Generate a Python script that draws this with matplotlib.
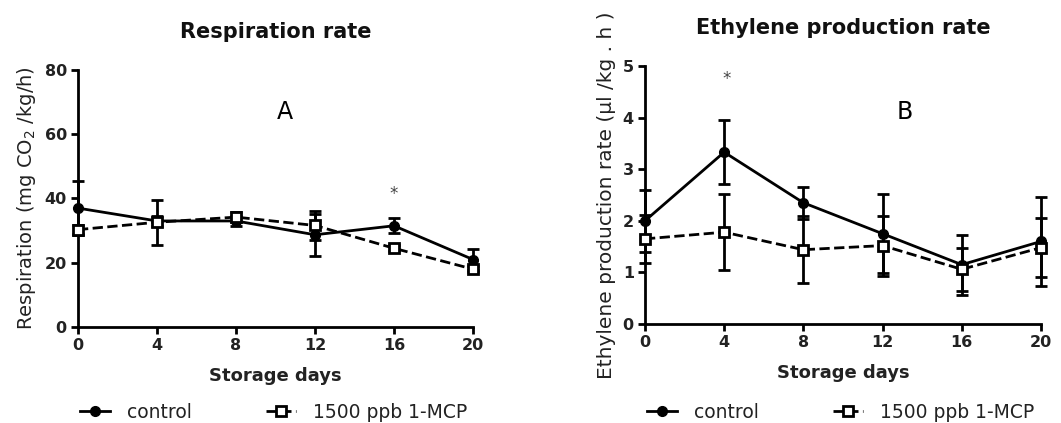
import numpy as np
import matplotlib
matplotlib.use('Agg')
from matplotlib import pyplot as plt
from matplotlib.lines import Line2D

plt.rcParams['font.family'] = ['DejaVu Sans']

# Storage days
days = [0, 4, 8, 12, 16, 20]

# Respiration rate (mg CO2/kg/h)
resp_control = [37.0, 33.0, 33.0, 28.7, 31.5, 21.0]
resp_control_err = [8.3, 1.5, 1.5, 6.5, 2.4, 3.3]
resp_mcp = [30.3, 32.6, 34.2, 31.6, 24.5, 18.0]
resp_mcp_err = [1.5, 7.0, 1.5, 4.6, 1.0, 1.0]

# Ethylene production rate (ul/kg.h)
eth_control = [2.0, 3.33, 2.35, 1.75, 1.15, 1.6]
eth_control_err = [0.6, 0.62, 0.31, 0.77, 0.58, 0.87]
eth_mcp = [1.65, 1.78, 1.44, 1.52, 1.06, 1.48]
eth_mcp_err = [0.47, 0.74, 0.65, 0.58, 0.42, 0.57]

fig = plt.figure(figsize=(10.61, 4.23), dpi=100)
ax1 = fig.add_axes([0.0735, 0.227, 0.3723, 0.6076])
ax2 = fig.add_axes([0.6079, 0.234, 0.3732, 0.610])


def draw(ax, ctl, ctl_err, mcp, mcp_err, ymax, ystep, title, ylabel, ylsize, legx):
    ax.errorbar(days, ctl, yerr=ctl_err, color='black', lw=2, marker='o', ms=7,
                capsize=4.5, elinewidth=2, capthick=2, clip_on=False, zorder=3)
    ax.errorbar(days, mcp, yerr=mcp_err, color='black', lw=2, ls='--', marker='s', ms=7,
                mfc='white', mec='black', mew=2, capsize=4.5, elinewidth=2, capthick=2,
                clip_on=False, zorder=3)
    ax.set_xlim(0, 20)
    ax.set_ylim(0, ymax)
    ax.set_xticks(days)
    ax.set_yticks(np.arange(0, ymax + ystep, ystep))
    for s in ['top', 'right']:
        ax.spines[s].set_visible(False)
    for s in ['left', 'bottom']:
        ax.spines[s].set_linewidth(2)
    ax.tick_params(direction='out', length=5, width=2, labelsize=11.5, pad=3)
    for lab in ax.get_xticklabels() + ax.get_yticklabels():
        lab.set_fontweight('bold')
        lab.set_color('#222222')
    ax.set_title(title, fontsize=15, fontweight='bold', pad=23, color='#111111')
    ax.set_xlabel('Storage days', fontsize=13, fontweight='bold', labelpad=10, color='#222222')
    ax.set_ylabel(ylabel, fontsize=ylsize, labelpad=5, color='#222222')

    handles = [Line2D([], [], color='black', lw=2, marker='o', ms=7),
               Line2D([], [], color='black', lw=2, ls='--', marker='s', ms=7,
                      mfc='white', mec='black', mew=2)]
    ax.legend(handles, ['control', '1500 ppb 1-MCP'], loc='center left',
              bbox_to_anchor=(legx, 0.026), bbox_transform=fig.transFigure,
              ncol=2, frameon=False, fontsize=13.5, handlelength=1.6,
              handletextpad=0.9, columnspacing=3.95, borderpad=0, borderaxespad=0,
              labelcolor='#222222')


draw(ax1, resp_control, resp_control_err, resp_mcp, resp_mcp_err, 80, 20,
     'Respiration rate', 'Respiration (mg CO$_2$ /kg/h)', 14, 0.0754)
draw(ax2, eth_control, eth_control_err, eth_mcp, eth_mcp_err, 5, 1,
     'Ethylene production rate', 'Ethylene production rate (µl /kg . h )', 14.5, 0.6098)

ax1.text(10.5, 67, 'A', fontsize=17, ha='center', va='center')
ax1.text(16, 41.5, '*', fontsize=12, ha='center', va='center', color='#444444')
ax2.text(13.1, 4.1, 'B', fontsize=17, ha='center', va='center')
ax2.text(4.1, 4.75, '*', fontsize=12, ha='center', va='center', color='#444444')

fig.savefig('out.png', dpi=100)
